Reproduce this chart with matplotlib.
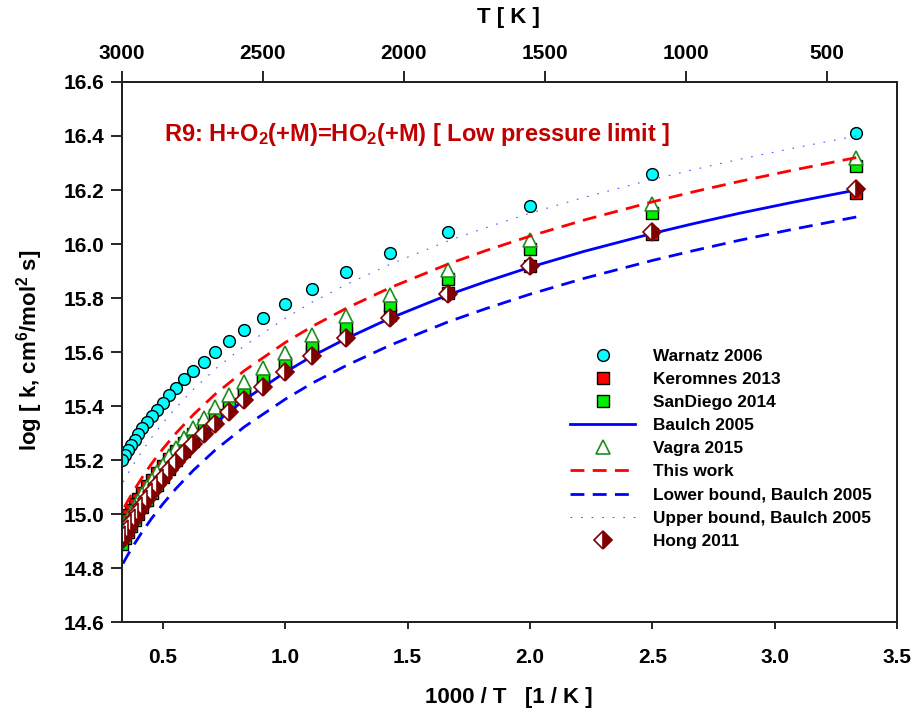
import matplotlib
matplotlib.use("Agg")
import matplotlib.pyplot as plt

plt.rcParams['font.family'] = ['Liberation Sans', 'DejaVu Sans']
plt.rcParams['font.weight'] = 'bold'
plt.rcParams['mathtext.default'] = 'regular'

# model points, T in K, values are log10 k
T_pts = [300, 400, 500, 600, 700, 800, 900, 1000, 1100, 1200, 1300, 1400, 1500, 1600,
         1700, 1800, 1900, 2000, 2100, 2200, 2300, 2400, 2500, 2600, 2700, 2800, 2900, 3000]
warnatz = [16.410, 16.259, 16.142, 16.046, 15.965, 15.895, 15.833, 15.777, 15.727, 15.681,
           15.639, 15.601, 15.564, 15.530, 15.499, 15.468, 15.440, 15.413, 15.387, 15.363,
           15.340, 15.317, 15.296, 15.275, 15.255, 15.236, 15.218, 15.200]
keromnes = [16.190, 16.036, 15.917, 15.820, 15.737, 15.666, 15.603, 15.547, 15.496, 15.449,
            15.407, 15.367, 15.330, 15.296, 15.263, 15.233, 15.204, 15.177, 15.151, 15.126,
            15.102, 15.079, 15.057, 15.036, 15.016, 14.997, 14.978, 14.960]
sandiego = [16.290, 16.115, 15.980, 15.869, 15.775, 15.694, 15.622, 15.558, 15.500, 15.447,
            15.399, 15.353, 15.311, 15.272, 15.235, 15.201, 15.168, 15.137, 15.107, 15.079,
            15.052, 15.026, 15.001, 14.977, 14.954, 14.932, 14.911, 14.890]
vagra = [16.320, 16.148, 16.014, 15.905, 15.812, 15.732, 15.662, 15.598, 15.541, 15.489,
         15.441, 15.397, 15.355, 15.317, 15.280, 15.246, 15.214, 15.183, 15.154, 15.126,
         15.099, 15.074, 15.049, 15.026, 15.003, 14.981, 14.960, 14.940]
hong = [16.205, 16.043, 15.917, 15.814, 15.727, 15.651, 15.585, 15.525, 15.471, 15.422,
        15.377, 15.335, 15.296, 15.260, 15.226, 15.193, 15.163, 15.134, 15.106, 15.080,
        15.055, 15.031, 15.008, 14.986, 14.965, 14.944, 14.924, 14.905]

# curves
T_line = [300, 325, 350, 375, 400, 450, 500, 550, 600, 700, 800, 900, 1000, 1200,
          1400, 1600, 1800, 2000, 2200, 2400, 2600, 2800, 3000]
baulch = [16.200, 16.155, 16.114, 16.075, 16.039, 15.973, 15.914, 15.860, 15.812, 15.725,
          15.650, 15.585, 15.525, 15.423, 15.337, 15.262, 15.196, 15.137, 15.084, 15.035,
          14.990, 14.949, 14.910]
this_work = [16.320, 16.274, 16.232, 16.193, 16.156, 16.089, 16.029, 15.975, 15.926, 15.838,
             15.762, 15.695, 15.635, 15.531, 15.444, 15.368, 15.301, 15.241, 15.187, 15.137,
             15.091, 15.049, 15.010]
lower = [16.100, 16.055, 16.014, 15.975, 15.939, 15.873, 15.814, 15.760, 15.712, 15.625,
         15.550, 15.485, 15.425, 15.323, 15.237, 15.162, 15.096, 15.037, 14.984, 14.935,
         14.890, 14.849, 14.810]
upper = [16.400, 16.355, 16.314, 16.275, 16.239, 16.173, 16.114, 16.060, 16.012, 15.925,
         15.850, 15.785, 15.725, 15.623, 15.537, 15.462, 15.396, 15.337, 15.284, 15.235,
         15.190, 15.149, 15.110]

x_pts = [1000.0 / t for t in T_pts]
x_line = [1000.0 / t for t in T_line]

fig = plt.figure(figsize=(9.16, 7.13), dpi=100)
ax = fig.add_axes([0.1332, 0.1276, 0.8461, 0.7574])

ax.plot(x_pts, warnatz, 'o', ms=8.5, mfc='cyan', mec='black', mew=1.0, label='Warnatz 2006')
ax.plot(x_pts, keromnes, 's', ms=8, mfc='red', mec='black', mew=1.0, label='Keromnes 2013')
ax.plot(x_pts, sandiego, 's', ms=8, mfc='#00ee00', mec='black', mew=1.0, label='SanDiego 2014')
ax.plot(x_line, baulch, '-', color='blue', lw=2, label='Baulch 2005')
ax.plot(x_pts, vagra, '^', ms=10, mfc='white', mec='#1e8c1e', mew=1.2, label='Vagra 2015')
ax.plot(x_line, this_work, '--', color='red', lw=2, dashes=(5, 3), label='This work')
ax.plot(x_line, lower, '--', color='blue', lw=2, dashes=(5, 3), label='Lower bound, Baulch 2005')
ax.plot(x_line, upper, ':', color='#5555ff', lw=0.8, dashes=(1.5, 8), label='Upper bound, Baulch 2005')
ax.plot(x_pts, hong, 'D', ms=9, fillstyle='right', mfc='#800000', mfcalt='white',
        mec='#800000', mew=1.2, label='Hong 2011')

ax.set_xlim(1000.0 / 3000, 3.5)
ax.set_ylim(14.6, 16.6)
ax.set_xticks([0.5, 1.0, 1.5, 2.0, 2.5, 3.0, 3.5])
ax.set_xticklabels(['0.5', '1.0', '1.5', '2.0', '2.5', '3.0', '3.5'])
ax.set_yticks([14.6, 14.8, 15.0, 15.2, 15.4, 15.6, 15.8, 16.0, 16.2, 16.4, 16.6])
ax.set_yticklabels(['%.1f' % v for v in ax.get_yticks()])
ax.tick_params(axis='y', direction='out', length=8, width=1.2, labelsize=15, pad=5)
ax.tick_params(axis='x', direction='out', length=5, width=1.2, labelsize=15, pad=14)
for s in ax.spines.values():
    s.set_linewidth(1.4)
    s.set_color('#222222')

# top axis in T
ax2 = ax.twiny()
ax2.set_xlim(3000, 250)
ax2.set_xticks([3000, 2500, 2000, 1500, 1000, 500])
ax2.set_xticklabels(['3000', '2500', '2000', '1500', '1000', '500'])
ax2.tick_params(axis='x', direction='out', length=8, width=1.2, labelsize=15, pad=6)
for s in ax2.spines.values():
    s.set_linewidth(1.4)
    s.set_color('#222222')

ax.text(0.503, 16.404, 'R9: H+O$_2$(+M)=HO$_2$(+M) [ Low pressure limit ]',
        color='#c00000', fontsize=17, fontweight='bold', va='center', ha='left')

fig.text(509 / 916, 1 - 697 / 713, '1000 / T   [1 / K ]', fontsize=16, fontweight='bold',
         ha='center', va='center')
fig.text(508 / 916, 1 - 17 / 713, 'T [ K ]', fontsize=16, fontweight='bold',
         ha='center', va='center')
fig.text(30 / 916, 1 - 350 / 713, 'log [ k, cm$^6$/mol$^2$ s]', fontsize=16, fontweight='bold',
         ha='center', va='center', rotation=90)

ax.legend(loc='upper left', bbox_to_anchor=(0.569, 0.519), frameon=False, numpoints=1,
          fontsize=12.4, handlelength=3.8, handletextpad=1.0, labelspacing=0.47,
          borderaxespad=0)

fig.savefig('out.png', dpi=100)
